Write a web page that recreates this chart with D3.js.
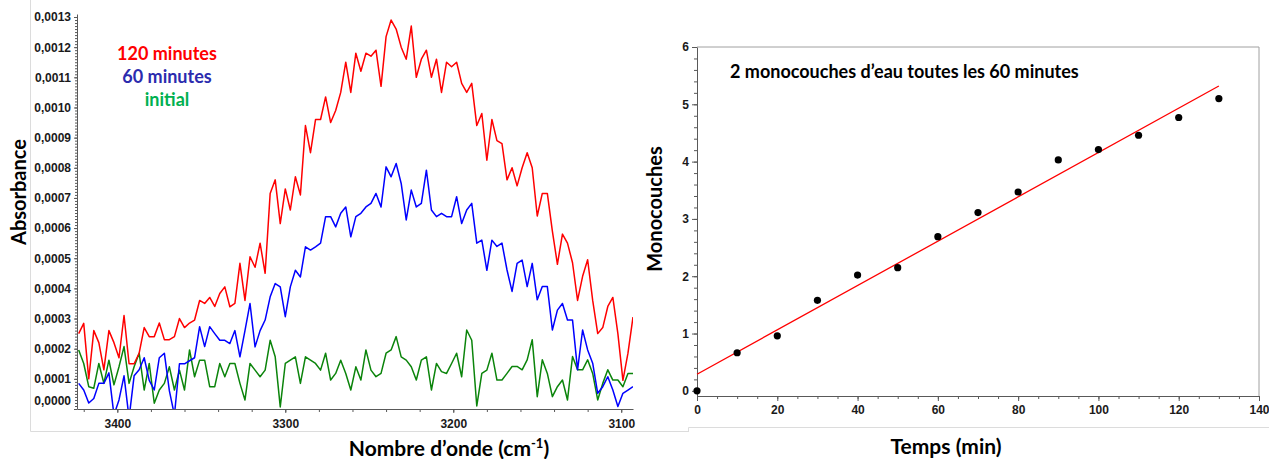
<!DOCTYPE html>
<html>
<head>
<meta charset="utf-8">
<script src="https://cdn.jsdelivr.net/npm/d3@7"></script>
<style>
  html, body { margin: 0; padding: 0; background: #ffffff; }
  svg { display: block; }
  .tick text { font-family: "Liberation Sans", Arial, sans-serif; font-weight: bold; font-size: 12px; fill: #1a1a1a; }
  .axis path.domain, .axis line { stroke: #595959; }
  .title { font-family: Lato, "Open Sans", sans-serif; font-weight: bold; fill: #000; }
</style>
</head>
<body>
<svg id="chart" width="1269" height="459"></svg>
<script>
// ---------- Left chart data (absorbance in units of 1e-4) ----------
const wavenumbers = d3.range(3423, 3092, -3); // 111 sampled wavenumbers, cm-1
const spectrum120 = [2.5, 2.84, 1.0, 2.6, 2.2, 1.3, 2.6, 2.2, 1.7, 3.1, 1.5, 1.5, 1.85, 2.7, 2.4, 2.4, 2.85, 2.3, 2.3, 2.4, 3.0, 2.7, 2.85, 2.95, 3.6, 3.5, 3.7, 3.4,
  3.83, 4.05, 3.39, 3.5, 4.83, 3.6, 5.05, 4.7, 5.5, 4.5, 7.15, 7.6, 6.15, 7.3, 6.6, 7.7, 7.1, 9.4, 8.5, 9.6, 9.6, 10.35, 9.5, 9.9, 10.5, 11.5, 10.5,
  11.8, 11.2, 11.8, 11.7, 11.9, 10.7, 12.35, 12.9, 12.6, 12.0, 11.6, 12.7, 11.0, 11.6, 11.9, 11.0, 11.6, 10.5, 11.5, 11.35, 11.5, 10.8, 10.5, 10.8, 9.4, 9.8, 8.25,
  9.6, 8.9, 8.8, 7.6, 8.0, 7.4, 8.0, 8.5, 8.0, 6.4, 7.15, 7.15, 5.9, 4.8, 5.8, 5.5, 4.85, 3.6, 4.4, 4.95, 3.6, 2.5, 2.7, 3.4, 3.7, 2.5, 0.95, 1.85, 3.05];
const spectrum60 = [0.85, 0.63, 0.2, 0.35, 0.85, 0.85, 1.2, -0.2, 0.3, 1.1, -0.3, 1.1, 1.3, 1.7, 0.95, 0.63, 1.7, 1.85, 0.6, -0.2, 1.5, 1.5, 1.6, 1.7, 2.73, 2.07, 2.73, 2.5,
  2.28, 2.28, 2.17, 2.6, 1.73, 2.6, 3.5, 2.06, 2.6, 2.95, 3.72, 4.16, 4.05, 3.06, 4.05, 4.6, 4.38, 5.38, 5.27, 5.38, 5.5, 6.38, 6.38, 6.04, 6.49, 6.7, 5.71,
  6.38, 6.49, 6.7, 6.82, 7.15, 6.7, 8.03, 7.7, 8.14, 7.48, 6.27, 7.26, 6.7, 6.82, 7.92, 6.6, 6.38, 6.49, 6.38, 6.38, 7.04, 6.15, 6.6, 6.82, 5.5, 5.6, 4.6,
  5.6, 5.39, 5.5, 4.61, 3.9, 4.83, 4.94, 4.06, 4.83, 3.62, 4.06, 4.06, 2.62, 3.28, 3.5, 2.95, 2.95, 1.3, 2.62, 1.96, 1.52, 0.52, 0.74, 1.07, 0.63, 0.08, 0.52, 0.63, 0.74];
const spectrumInitial = [1.96, 1.51, 0.74, 0.69, 1.51, 0.85, 1.62, 0.8, 1.4, 2.07, 0.85, 1.4, 1.85, 0.63, 1.51, 0.19, 0.63, 0.85, 1.4, 0.63, 1.29, 0.63, 1.96, 1.07, 1.62, 1.62, 0.74, 0.74,
  1.51, 1.07, 1.51, 1.51, 0.85, 0.3, 1.51, 1.29, 1.07, 1.29, 2.28, 1.73, 0.07, 1.51, 1.62, 1.73, 0.85, 1.73, 1.62, 1.51, 1.29, 1.85, 0.96, 1.18, 1.62, 1.18, 0.63,
  1.4, 0.96, 1.96, 1.29, 1.07, 1.18, 1.85, 1.96, 2.4, 1.73, 1.62, 1.4, 0.96, 1.62, 1.73, 0.63, 1.51, 1.24, 1.18, 1.51, 1.85, 1.07, 2.62, 2.28, 0.1, 1.18, 1.29,
  1.85, 0.96, 0.96, 1.18, 1.41, 1.41, 1.3, 1.63, 2.3, 0.41, 1.63, 1.18, 0.41, 0.74, 0.96, 0.3, 1.74, 1.3, 1.3, 1.63, 1.18, 0.3, 0.85, 1.3, 0.96, 0.96, 0.74, 1.18, 1.18];
const leftYTicks = [0, 1, 2, 3, 4, 5, 6, 7, 8, 9, 10, 11, 12, 13];
const leftXTicks = [3400, 3300, 3200, 3100];
const legendLabels = ["120 minutes", "60 minutes", "initial"];

// ---------- Right chart data ----------
const times = [0, 10, 20, 30, 40, 50, 60, 70, 80, 90, 100, 110, 120, 130];
const monolayers = [0, 0.665, 0.96, 1.58, 2.02, 2.15, 2.69, 3.11, 3.47, 4.03, 4.21, 4.46, 4.77, 5.10];
const fitTimes = [0, 130];
const fitMonolayers = [0.29, 5.32];
const rightXTicks = [0, 20, 40, 60, 80, 100, 120, 140];
const rightYTicks = [0, 1, 2, 3, 4, 5, 6];

const svg = d3.select("#chart");
svg.append("rect").attr("width", 1269).attr("height", 459).attr("fill", "#fff");

// faint panel borders
svg.append("path").attr("d", "M30.5,0 V431.5 H688.5").attr("fill", "none").attr("stroke", "#dcdcdc");
svg.append("path").attr("d", "M688.5,432 V427.5 H1269").attr("fill", "none").attr("stroke", "#dcdcdc");

// ================= LEFT CHART =================
const xL = d3.scaleLinear().domain([3424, 3093]).range([77, 633]);
const yL = d3.scaleLinear().domain([0, 13.1]).range([409, 14]);
const fmtAbs = d => (d / 1e4).toFixed(4).replace(".", ",");

svg.append("clipPath").attr("id", "clipL")
  .append("rect").attr("x", 77).attr("y", 0).attr("width", 556).attr("height", 409);

const lineL = d3.line().x((d, i) => xL(wavenumbers[i])).y(d => yL(d));
const series = [
  { vals: spectrumInitial, color: "#0b840b" },
  { vals: spectrum60, color: "#0000ff" },
  { vals: spectrum120, color: "#ff0000" }
];
const gLines = svg.append("g").attr("clip-path", "url(#clipL)");
series.forEach(s => {
  gLines.append("path").datum(s.vals).attr("d", lineL)
    .attr("fill", "none").attr("stroke", s.color).attr("stroke-width", 1.5)
    .attr("stroke-linejoin", "round");
});

// minor ticks left y
svg.append("g").attr("class", "axis").attr("transform", "translate(77,0)")
  .call(d3.axisLeft(yL).tickValues(d3.range(0, 13.05, 0.1)).tickSize(2).tickFormat(""))
  .call(g => g.select(".domain").remove())
  .selectAll("line").attr("stroke", "#7a7a7a");
const yAxL = svg.append("g").attr("class", "axis").attr("transform", "translate(77,0)")
  .call(d3.axisLeft(yL).tickValues(leftYTicks).tickSize(3).tickSizeOuter(0).tickPadding(3).tickFormat(fmtAbs));
yAxL.selectAll(".tick").filter(d => d === 0).select("text").attr("dy", "-0.35em");

// left x axis
svg.append("g").attr("class", "axis").attr("transform", "translate(0,409)")
  .call(d3.axisBottom(xL).tickValues(d3.range(3420, 3092, -20)).tickSize(3).tickFormat(""))
  .call(g => g.select(".domain").remove());
svg.append("g").attr("class", "axis").attr("transform", "translate(0,409)")
  .call(d3.axisBottom(xL).tickValues(leftXTicks).tickSize(4).tickSizeOuter(0).tickPadding(6).tickFormat(d3.format("d")));

// legend
const legendColors = ["#ff0000", "#2b2bae", "#00b050"];
legendLabels.forEach((t, i) => {
  svg.append("text").attr("class", "title").attr("x", 167).attr("y", 60 + i * 23)
    .attr("text-anchor", "middle").attr("font-size", 18).style("fill", legendColors[i]).text(t);
});

// axis titles
svg.append("text").attr("class", "title").attr("font-size", 20)
  .attr("transform", "translate(26,192) rotate(-90)").attr("text-anchor", "middle").text("Absorbance");
const xt = svg.append("text").attr("class", "title").attr("font-size", 21)
  .attr("x", 449).attr("y", 456).attr("text-anchor", "middle");
xt.append("tspan").text("Nombre d’onde (cm");
xt.append("tspan").attr("font-size", 13).attr("dy", -8).text("-1");
xt.append("tspan").attr("dy", 8).text(")");

// ================= RIGHT CHART =================
const xR = d3.scaleLinear().domain([0, 140]).range([697, 1259]);
const yR = d3.scaleLinear().domain([-0.09, 6]).range([396, 47]);

// frame top / right
svg.append("path").attr("d", `M${xR(0)},${yR(6)} H${xR(140)} V${yR(-0.09)}`)
  .attr("fill", "none").attr("stroke", "#a0a0a0");

svg.append("g").attr("class", "axis").attr("transform", `translate(${xR(0)},0)`)
  .call(d3.axisLeft(yR).tickValues(d3.range(0, 6.01, 0.2)).tickSize(3).tickFormat(""))
  .call(g => g.select(".domain").remove());
svg.append("g").attr("class", "axis").attr("transform", `translate(${xR(0)},0)`)
  .call(d3.axisLeft(yR).tickValues(rightYTicks).tickSize(5).tickSizeOuter(0).tickPadding(3).tickFormat(d3.format("d")));
svg.append("g").attr("class", "axis").attr("transform", `translate(0,${yR(-0.09)})`)
  .call(d3.axisBottom(xR).tickValues(d3.range(0, 141, 5)).tickSize(3).tickFormat(""))
  .call(g => g.select(".domain").remove());
svg.append("g").attr("class", "axis").attr("transform", `translate(0,${yR(-0.09)})`)
  .call(d3.axisBottom(xR).tickValues(rightXTicks).tickSize(5).tickSizeOuter(0).tickPadding(4).tickFormat(d3.format("d")));

// fit line
svg.append("path").datum(fitTimes.map((t, i) => [t, fitMonolayers[i]]))
  .attr("d", d3.line().x(d => xR(d[0])).y(d => yR(d[1])))
  .attr("fill", "none").attr("stroke", "#ff0000").attr("stroke-width", 1.3);

// points
svg.append("g").selectAll("circle").data(times).join("circle")
  .attr("cx", d => xR(d)).attr("cy", (d, i) => yR(monolayers[i])).attr("r", 3.6).attr("fill", "#000");

svg.append("text").attr("class", "title").attr("font-size", 18).attr("x", 730).attr("y", 78)
  .text("2 monocouches d’eau toutes les 60 minutes");
svg.append("text").attr("class", "title").attr("font-size", 20)
  .attr("transform", "translate(662,209) rotate(-90)").attr("text-anchor", "middle").text("Monocouches");
svg.append("text").attr("class", "title").attr("font-size", 21)
  .attr("x", 946).attr("y", 454).attr("text-anchor", "middle").text("Temps (min)");
</script>
</body>
</html>
